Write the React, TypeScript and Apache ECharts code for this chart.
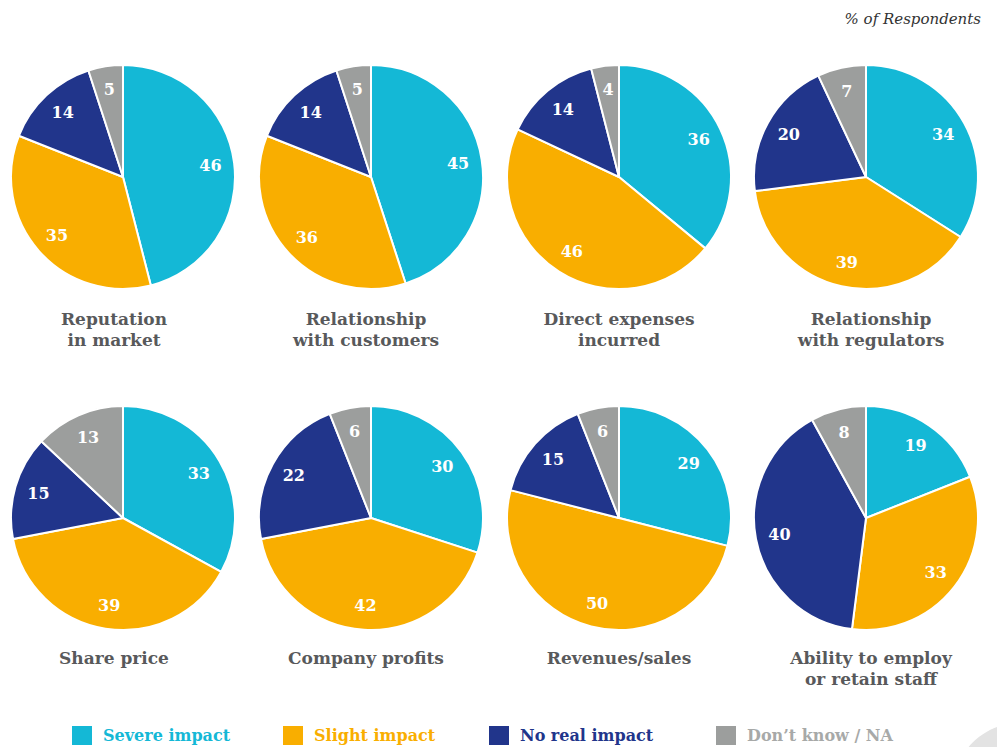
import React, { useEffect, useRef } from "react";
import * as echarts from "echarts";

const categories = [
  "Reputation\nin market",
  "Relationship\nwith customers",
  "Direct expenses\nincurred",
  "Relationship\nwith regulators",
  "Share price",
  "Company profits",
  "Revenues/sales",
  "Ability to employ\nor retain staff",
];
const severe = [46, 45, 36, 34, 33, 30, 29, 19];
const slight = [35, 36, 46, 39, 39, 42, 50, 33];
const noReal = [14, 14, 14, 20, 15, 22, 15, 40];
const dontKnow = [5, 5, 4, 7, 13, 6, 6, 8];
const seriesNames = ["Severe impact", "Slight impact", "No real impact", "Don’t know / NA"];
const colors = ["#14B8D6", "#F9AE00", "#21358B", "#9C9E9D"];

const centersX = [123, 371, 619, 866];
const centersY = [177, 518];
const labelX = [114, 366, 619, 871];
const labelY = [308, 647];
const legendX = [70, 281, 487, 714];
const R = 112;
const FONT = "DejaVu Serif";

export default function App() {
  const ref = useRef<HTMLDivElement>(null);
  useEffect(() => {
    if (!ref.current) return;
    const chart = echarts.init(ref.current, undefined, { renderer: "svg" });
    const series: any[] = [];
    categories.forEach((cat, i) => {
      const cx = centersX[i % 4];
      const cy = centersY[Math.floor(i / 4)];
      const vals = [severe[i], slight[i], noReal[i], dontKnow[i]];
      series.push({
        type: "pie",
        name: cat,
        center: [cx, cy],
        radius: [0, R],
        startAngle: 90,
        clockwise: true,
        silent: true,
        label: { show: false },
        labelLine: { show: false },
        itemStyle: { borderColor: "#ffffff", borderWidth: 2 },
        data: vals.map((v, k) => ({ name: seriesNames[k], value: v, itemStyle: { color: colors[k] } })),
      });
      series.push({
        type: "pie",
        name: cat + " labels",
        center: [cx, cy],
        radius: [R * 0.52, R],
        startAngle: 90,
        clockwise: true,
        silent: true,
        legendHoverLink: false,
        label: {
          show: true,
          position: "inside",
          formatter: "{c}",
          color: "#ffffff",
          fontFamily: FONT,
          fontWeight: "bold",
          fontSize: 16,
        },
        labelLine: { show: false },
        itemStyle: { color: "rgba(0,0,0,0)", borderWidth: 0 },
        data: vals.map((v, k) => ({ name: seriesNames[k], value: v })),
      });
    });

    const legends = seriesNames.map((n, k) => ({
      show: true,
      left: legendX[k],
      top: 724,
      selectedMode: false,
      icon: "rect",
      itemWidth: 22,
      itemHeight: 21,
      padding: 0,
      data: [{ name: n, itemStyle: { color: colors[k] } }],
      textStyle: {
        color: k === 3 ? "#A7A9A8" : colors[k],
        fontFamily: FONT,
        fontWeight: "bold",
        fontSize: 16,
        padding: [0, 0, 0, 5],
      },
    }));

    const graphics: any[] = [
      {
        type: "circle",
        shape: { cx: 1020, cy: 790, r: 67 },
        style: { fill: "#E3E3E3" },
        z: -1,
      },
      {
        type: "text",
        x: 981,
        y: 19,
        style: {
          text: "% of Respondents",
          fill: "#333333",
          font: `italic 15px "${FONT}"`,
          textAlign: "right",
          textVerticalAlign: "middle",
        },
      },
    ];
    categories.forEach((cat, i) => {
      graphics.push({
        type: "text",
        x: labelX[i % 4],
        y: labelY[Math.floor(i / 4)],
        style: {
          text: cat,
          fill: "#58595B",
          fontFamily: FONT,
          fontWeight: "bold",
          fontSize: 17,
          lineHeight: 21,
          textAlign: "center",
          textVerticalAlign: "top",
        },
      });
    });

    chart.setOption({
      animation: false,
      backgroundColor: "#ffffff",
      legend: legends,
      series,
      graphic: graphics,
    });
    return () => chart.dispose();
  }, []);
  return (
    <div
      ref={ref}
      style={{ position: "fixed", left: 0, top: 0, width: 997, height: 747 }}
    />
  );
}
